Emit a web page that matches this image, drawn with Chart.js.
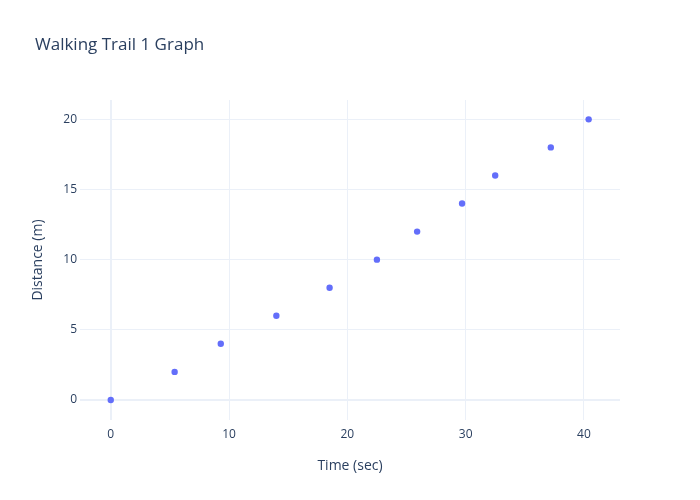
<!DOCTYPE html>
<html>
<head>
<meta charset="utf-8">
<script src="https://cdn.jsdelivr.net/npm/chart.js@4/dist/chart.umd.min.js"></script>
<style>
  html, body { margin: 0; padding: 0; background: #fff; }
  #chart { display: block; }
</style>
</head>
<body>
<canvas id="chart" width="700" height="500"></canvas>
<script>
// data
const timeSec = [0, 5.4, 9.3, 14.0, 18.5, 22.5, 25.9, 29.7, 32.5, 37.2, 40.4];
const distanceM = [0, 2, 4, 6, 8, 10, 12, 14, 16, 18, 20];

const textColor = '#2a3f5f';
const gridColor = '#ebf0f8';
const fontFamily = '"Open Sans", "Noto Sans", sans-serif';

// title drawn at a fixed spot, like the reference
const titlePlugin = {
  id: 'plotTitle',
  afterDraw(chart) {
    const ctx = chart.ctx;
    ctx.save();
    ctx.font = `17px ${fontFamily}`;
    ctx.fillStyle = textColor;
    ctx.textAlign = 'left';
    ctx.textBaseline = 'alphabetic';
    ctx.fillText('Walking Trail 1 Graph', 35, 50);
    ctx.restore();
  }
};

const gridWidth = c => (c.tick && c.tick.value === 0 ? 2 : 1);

new Chart(document.getElementById('chart'), {
  type: 'scatter',
  data: {
    datasets: [{
      data: timeSec.map((t, i) => ({ x: t, y: distanceM[i] })),
      backgroundColor: '#636efa',
      borderWidth: 0,
      pointRadius: 3.2,
      pointHoverRadius: 3.2
    }]
  },
  options: {
    responsive: false,
    devicePixelRatio: 1,
    animation: false,
    layout: { padding: { top: 100, right: 80, left: 0, bottom: 0 } },
    plugins: { legend: { display: false }, tooltip: { enabled: false } },
    scales: {
      x: {
        type: 'linear',
        min: -2.6,
        max: 43.05,
        afterFit: s => { s.height = 80; },
        border: { display: false },
        grid: { color: gridColor, lineWidth: gridWidth, drawTicks: false },
        ticks: {
          stepSize: 10,
          includeBounds: false,
          padding: 7,
          color: textColor,
          font: { family: fontFamily, size: 12 }
        },
        title: {
          display: true,
          text: 'Time (sec)',
          color: textColor,
          font: { family: fontFamily, size: 14, lineHeight: 1 },
          padding: { top: 0, bottom: 27 }
        }
      },
      y: {
        type: 'linear',
        min: -1.43,
        max: 21.38,
        afterFit: s => { s.width = 80; },
        border: { display: false },
        grid: { color: gridColor, lineWidth: gridWidth, drawTicks: false },
        ticks: {
          stepSize: 5,
          includeBounds: false,
          padding: 3,
          color: textColor,
          font: { family: fontFamily, size: 12 }
        },
        title: {
          display: true,
          text: 'Distance (m)',
          color: textColor,
          font: { family: fontFamily, size: 14, lineHeight: 1 },
          padding: { top: 31, bottom: 0 }
        }
      }
    }
  },
  plugins: [titlePlugin]
});
</script>
</body>
</html>
